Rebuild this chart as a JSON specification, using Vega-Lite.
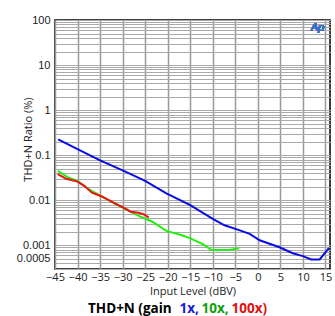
{
  "$schema": "https://vega.github.io/schema/vega-lite/v6.json",
  "width": 275,
  "height": 249,
  "autosize": "none",
  "padding": {"left": 55, "top": 20, "right": 5, "bottom": 47},
  "background": "white",
  "config": {
    "view": {"stroke": "black", "strokeWidth": 1.5},
    "font": "Open Sans",
    "legend": {"gridAlign": "none"}
  },
  "data": {
    "values": [
      {"level": -44.3, "thdn": 0.226, "gain": "1x"},
      {"level": -40, "thdn": 0.137, "gain": "1x"},
      {"level": -35, "thdn": 0.077, "gain": "1x"},
      {"level": -30, "thdn": 0.046, "gain": "1x"},
      {"level": -25, "thdn": 0.027, "gain": "1x"},
      {"level": -20.3, "thdn": 0.0143, "gain": "1x"},
      {"level": -15.1, "thdn": 0.0079, "gain": "1x"},
      {"level": -10, "thdn": 0.0039, "gain": "1x"},
      {"level": -7.4, "thdn": 0.0028, "gain": "1x"},
      {"level": -4.8, "thdn": 0.0023, "gain": "1x"},
      {"level": -1.8, "thdn": 0.0018, "gain": "1x"},
      {"level": 0.4, "thdn": 0.0013, "gain": "1x"},
      {"level": 4.8, "thdn": 0.00091, "gain": "1x"},
      {"level": 7.75, "thdn": 0.00067, "gain": "1x"},
      {"level": 10, "thdn": 0.00058, "gain": "1x"},
      {"level": 11.8, "thdn": 0.00049, "gain": "1x"},
      {"level": 13.7, "thdn": 0.00049, "gain": "1x"},
      {"level": 15.8, "thdn": 0.00088, "gain": "1x"},
      {"level": -44.4, "thdn": 0.045, "gain": "10x"},
      {"level": -42, "thdn": 0.032, "gain": "10x"},
      {"level": -40, "thdn": 0.027, "gain": "10x"},
      {"level": -38, "thdn": 0.019, "gain": "10x"},
      {"level": -36, "thdn": 0.0145, "gain": "10x"},
      {"level": -34.6, "thdn": 0.0121, "gain": "10x"},
      {"level": -31.6, "thdn": 0.0083, "gain": "10x"},
      {"level": -28.3, "thdn": 0.0056, "gain": "10x"},
      {"level": -26.2, "thdn": 0.0044, "gain": "10x"},
      {"level": -23.5, "thdn": 0.0034, "gain": "10x"},
      {"level": -20.3, "thdn": 0.0021, "gain": "10x"},
      {"level": -17, "thdn": 0.0017, "gain": "10x"},
      {"level": -15.1, "thdn": 0.00145, "gain": "10x"},
      {"level": -12.2, "thdn": 0.00107, "gain": "10x"},
      {"level": -10.3, "thdn": 0.00079, "gain": "10x"},
      {"level": -6.3, "thdn": 0.00079, "gain": "10x"},
      {"level": -4.2, "thdn": 0.00087, "gain": "10x"},
      {"level": -44.4, "thdn": 0.038, "gain": "100x"},
      {"level": -42.5, "thdn": 0.03, "gain": "100x"},
      {"level": -40, "thdn": 0.026, "gain": "100x"},
      {"level": -38.5, "thdn": 0.021, "gain": "100x"},
      {"level": -36.8, "thdn": 0.0148, "gain": "100x"},
      {"level": -34.6, "thdn": 0.0122, "gain": "100x"},
      {"level": -31.6, "thdn": 0.0085, "gain": "100x"},
      {"level": -29.5, "thdn": 0.0066, "gain": "100x"},
      {"level": -28.2, "thdn": 0.0056, "gain": "100x"},
      {"level": -26.5, "thdn": 0.0053, "gain": "100x"},
      {"level": -25.5, "thdn": 0.005, "gain": "100x"},
      {"level": -24.2, "thdn": 0.0042, "gain": "100x"}
    ]
  },
  "layer": [
    {
      "mark": {"type": "line", "strokeWidth": 2, "clip": true},
      "encoding": {
        "x": {
          "field": "level", "type": "quantitative",
          "scale": {"domain": [-45, 16], "nice": false, "zero": false},
          "axis": {
            "values": [-45, -40, -35, -30, -25, -20, -15, -10, -5, 0, 5, 10, 15],
            "tickCount": 20,
            "title": "Input Level (dBV)",
            "titleFont": "Open Sans", "titleFontSize": 11, "titleFontWeight": "normal", "titleColor": "#222",
            "titlePadding": 3,
            "labelFont": "Open Sans", "labelFontSize": 11, "labelColor": "#222", "labelPadding": 2,
            "labelFlush": false, "labelOverlap": false,
            "ticks": false, "domain": false,
            "grid": true, "gridColor": "#999", "gridWidth": 1.5
          }
        },
        "y": {
          "field": "thdn", "type": "quantitative",
          "scale": {"type": "log", "domain": [0.0003, 100], "nice": false},
          "axis": {
            "values": [0.0003, 0.0004, 0.0005, 0.0006, 0.0007, 0.0008, 0.0009,
                       0.001, 0.002, 0.003, 0.004, 0.005, 0.006, 0.007, 0.008, 0.009,
                       0.01, 0.02, 0.03, 0.04, 0.05, 0.06, 0.07, 0.08, 0.09,
                       0.1, 0.2, 0.3, 0.4, 0.5, 0.6, 0.7, 0.8, 0.9,
                       1, 2, 3, 4, 5, 6, 7, 8, 9,
                       10, 20, 30, 40, 50, 60, 70, 80, 90, 100],
            "tickCount": 100,
            "format": "~g",
            "labelExpr": "indexof(['100','10','1','0.1','0.01','0.001','0.0005'], datum.label) >= 0 ? datum.label : ''",
            "title": "THD+N Ratio (%)",
            "titleFont": "Open Sans", "titleFontSize": 11, "titleFontWeight": "normal", "titleColor": "#222",
            "titleX": -22, "titleY": 119,
            "labelFont": "Liberation Sans", "labelFontSize": 11, "labelColor": "#222", "labelPadding": 5,
            "labelOverlap": false, "labelFlush": false,
            "ticks": false, "domain": false,
            "grid": true, "gridColor": "#aaa", "gridWidth": 1
          }
        },
        "color": {
          "field": "gain", "type": "nominal",
          "scale": {"domain": ["1x", "10x", "100x"], "range": ["#0a0ae6", "#22ee11", "#ee1111"]},
          "legend": {
            "orient": "none", "legendX": 33, "legendY": 282,
            "direction": "horizontal",
            "gridAlign": "none",
            "title": "THD+N (gain",
            "titleOrient": "left",
            "titleFont": "Open Sans", "titleFontSize": 13.5, "titleFontWeight": "bold", "titleColor": "black",
            "titlePadding": -7,
            "labelFont": "Open Sans", "labelFontSize": 13.5, "labelFontWeight": "bold",
            "labelExpr": "datum.label == '100x' ? '100x)' : datum.label + ','",
            "symbolType": "circle",
            "symbolSize": 1, "symbolStrokeWidth": 0, "symbolOpacity": 0, "labelOffset": 1,
            "columnPadding": -12,
            "encode": {
              "labels": {
                "update": {
                  "fill": {"signal": "datum.value == '1x' ? '#1a1ad8' : datum.value == '10x' ? '#10a010' : '#dd1111'"}
                }
              }
            }
          }
        },
        "order": {"field": "level", "type": "quantitative"}
      }
    },
    {
      "mark": {"type": "text", "text": "Ap", "fontStyle": "italic", "fontSize": 11, "color": "#3a6fc8", "font": "Liberation Sans"},
      "encoding": {
        "x": {"datum": 13.2},
        "y": {"datum": 65}
      }
    }
  ]
}
